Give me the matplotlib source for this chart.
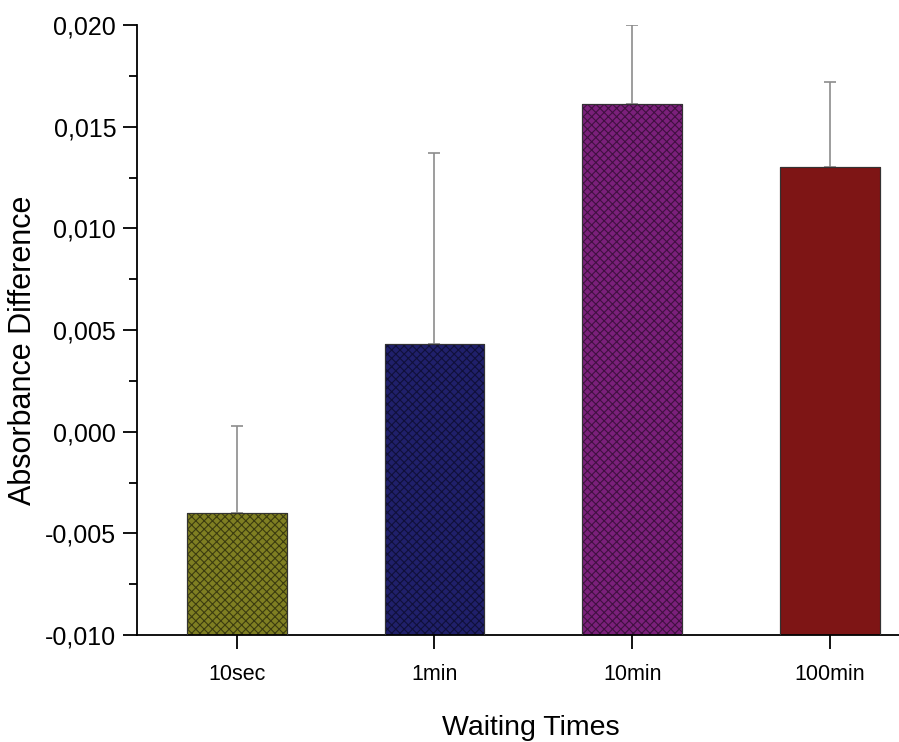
import numpy as np
import matplotlib.pyplot as plt
from matplotlib.ticker import MultipleLocator, FuncFormatter

plt.rcParams['font.family'] = ['Liberation Sans', 'DejaVu Sans']
plt.rcParams['hatch.linewidth'] = 0.8

# Absorbance difference per waiting time (mean and upper error)
categories = ['10sec', '1min', '10min', '100min']
means = [-0.0040, 0.0043, 0.0161, 0.0130]
errors = [0.0043, 0.0094, 0.0039, 0.0042]
colors = ['#7f7f22', '#20206b', '#7b207b', '#7e1515']
hatch_colors = ['#3c3c10', '#10103a', '#401040', '#6a1010']
hatches = ['xxxx', 'xxxx', 'xxxx', None]

base = -0.010

fig = plt.figure(figsize=(8.99, 7.42), dpi=100)
ax = fig.add_axes([0.1524, 0.1442, 0.8476, 0.8221])

x = np.arange(len(categories))
for i in range(len(categories)):
    ax.bar(x[i], means[i] - base, bottom=base, width=0.505,
           color=colors[i], edgecolor=hatch_colors[i], linewidth=0.8,
           hatch=hatches[i], zorder=2)
    # outline drawn separately so the hatch colour can differ
    ax.bar(x[i], means[i] - base, bottom=base, width=0.505,
           fill=False, edgecolor='#333333', linewidth=0.8, zorder=3)

ax.errorbar(x, means, yerr=[np.zeros(len(errors)), errors], fmt='none',
            ecolor='#8c8c8c', elinewidth=1.2, capsize=4.5, capthick=1.2, zorder=1)

ax.set_ylim(-0.010, 0.020)
ax.set_xlim(-0.505, 3.35)
ax.yaxis.set_major_locator(MultipleLocator(0.005))
ax.yaxis.set_minor_locator(MultipleLocator(0.0025))
ax.yaxis.set_major_formatter(FuncFormatter(lambda v, p: f'{v:.3f}'.replace('.', ',').replace('-0,000', '0,000')))
ax.set_xticks(x)
ax.set_xticklabels(categories)

ax.spines['top'].set_visible(False)
ax.spines['right'].set_visible(False)
ax.spines['left'].set_linewidth(1.3)
ax.spines['bottom'].set_linewidth(1.3)
ax.tick_params(axis='y', which='major', length=10, width=1.3, labelsize=18, pad=5)
ax.tick_params(axis='y', which='minor', length=6, width=1.3)
ax.tick_params(axis='x', which='major', length=10, width=1.3, labelsize=15.5, pad=11)

ax.set_ylabel('Absorbance Difference', fontsize=22)
ax.yaxis.set_label_coords(-0.130, 0.467)
ax.set_xlabel('Waiting Times', fontsize=20.5, va='top')
ax.xaxis.set_label_coords(0.517, -0.131)

fig.savefig('out.png', dpi=100)
